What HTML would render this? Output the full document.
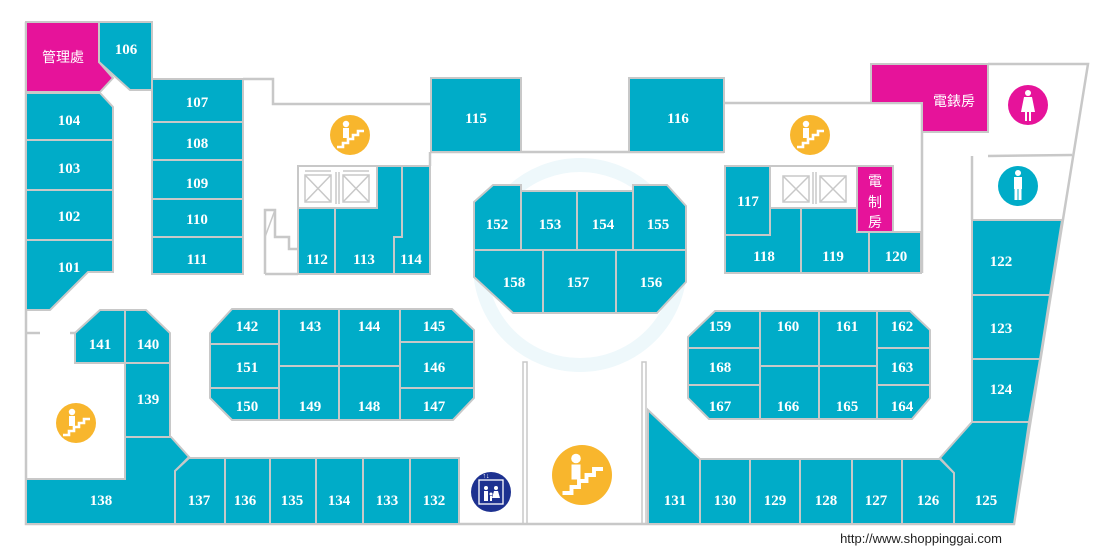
<!DOCTYPE html>
<html><head><meta charset="utf-8"><style>
html,body{margin:0;padding:0;background:#fff;}
svg{display:block;}
.t{fill:#00acc8;stroke:#c8c8c8;stroke-width:2;}
.m{fill:#e6139a;stroke:#c8c8c8;stroke-width:2;}
.w{fill:none;stroke:#c8c8c8;stroke-width:2.5;}
.n{font-family:"Liberation Serif",serif;font-weight:bold;font-size:15px;fill:#fff;text-anchor:middle;}
.c{font-family:"Liberation Sans","Noto Sans CJK TC",sans-serif;font-size:14px;fill:#fff;text-anchor:middle;}
</style></head><body>
<svg width="1114" height="554" viewBox="0 0 1114 554" xmlns="http://www.w3.org/2000/svg">
<defs>
<g id="st">
<circle cx="0" cy="0" r="20" fill="#f8b62d"/>
<circle cx="-4" cy="-11" r="3.2" fill="#fff"/>
<rect x="-7" y="-7" width="6" height="10" fill="#fff"/>
<polyline points="-13,12 -7,12 -7,8 -2,8 -2,4 3,4 3,0 8,0 8,-4 14,-4" fill="none" stroke="#fff" stroke-width="2.6"/>
</g>
</defs>
<!-- faint watermark -->
<circle cx="580" cy="265" r="100" fill="none" stroke="#eef8fb" stroke-width="14"/>
<!-- walls -->
<polyline class="w" points="26,22 26,524 1014,524 1088,64 988,64"/>
<polyline class="w" points="243,79 273,79 273,104 431,104"/>
<polyline class="w" points="431,152 724,152"/>
<polyline class="w" points="724,103 922,103 922,273"/>
<polyline class="w" points="988,156 1072,155"/>
<polyline class="w" points="972,156 972,220"/>
<polyline class="w" points="26,333 40,333"/><polyline class="w" points="70,333 75,333"/>
<polyline class="w" points="430,152 430,166"/>
<rect x="523" y="362" width="4" height="162" fill="none" stroke="#c8c8c8" stroke-width="1.5"/>
<rect x="642" y="362" width="4" height="162" fill="none" stroke="#c8c8c8" stroke-width="1.5"/>
<!-- small stair outline -->
<polyline class="w" points="265,274 265,210 275,210 275,237 289,237 289,249 297,249"/>
<line x1="265" y1="237" x2="275" y2="210" stroke="#c8c8c8" stroke-width="1.5"/>
<polyline class="w" points="265,274 298,274"/>
<!-- left column -->
<polygon class="m" points="26,22 99,22 99,62 113,78 100,92 26,92"/>
<polygon class="t" points="99,22 152,22 152,90 130,90 99,62"/>
<polygon class="t" points="26,93 100,93 113,107 113,140 26,140"/>
<rect class="t" x="26" y="140" width="87" height="50"/>
<rect class="t" x="26" y="190" width="87" height="50"/>
<polygon class="t" points="26,240 113,240 113,272 88,272 50,310 26,310"/>
<rect class="t" x="152" y="79" width="91" height="43"/>
<rect class="t" x="152" y="122" width="91" height="38"/>
<rect class="t" x="152" y="160" width="91" height="39"/>
<rect class="t" x="152" y="199" width="91" height="38"/>
<rect class="t" x="152" y="237" width="91" height="37"/>
<rect class="t" x="431" y="78" width="90" height="74"/>
<!-- elevators left -->
<rect x="298" y="166" width="79" height="42" fill="#fff" stroke="#c8c8c8" stroke-width="2"/>
<g stroke="#c8c8c8" stroke-width="1.5" fill="none">
<rect x="305" y="175" width="26" height="27"/><line x1="305" y1="175" x2="331" y2="202"/><line x1="331" y1="175" x2="305" y2="202"/>
<rect x="343" y="175" width="26" height="27"/><line x1="343" y1="175" x2="369" y2="202"/><line x1="369" y1="175" x2="343" y2="202"/>
<line x1="336" y1="172" x2="336" y2="204"/><line x1="339" y1="172" x2="339" y2="204"/>
<line x1="305" y1="171" x2="331" y2="171"/><line x1="343" y1="171" x2="369" y2="171"/>
</g>
<rect class="t" x="298" y="208" width="37" height="66"/>
<polygon class="t" points="335,208 377,208 377,166 402,166 402,237 394,237 394,274 335,274"/>
<polygon class="t" points="402,166 430,166 430,274 394,274 394,237 402,237"/>
<!-- center 152-158 -->
<polygon class="t" points="474,202 493,185 521,185 521,250 474,250"/>
<rect class="t" x="521" y="191" width="56" height="59"/>
<rect class="t" x="577" y="191" width="56" height="59"/>
<polygon class="t" points="633,185 667,185 686,206 686,250 633,250"/>
<polygon class="t" points="474,250 543,250 543,313 513,313 474,277"/>
<rect class="t" x="543" y="250" width="73" height="63"/>
<polygon class="t" points="616,250 686,250 686,282 657,313 616,313"/>
<!-- right top -->
<rect class="t" x="629" y="78" width="95" height="74"/>
<polygon class="m" points="871,64 988,64 988,132 922,132 922,103 871,103"/>
<rect x="770" y="166" width="87" height="42" fill="#fff" stroke="#c8c8c8" stroke-width="2"/>
<g stroke="#c8c8c8" stroke-width="1.5" fill="none">
<rect x="783" y="176" width="26" height="26"/><line x1="783" y1="176" x2="809" y2="202"/><line x1="809" y1="176" x2="783" y2="202"/>
<rect x="820" y="176" width="26" height="26"/><line x1="820" y1="176" x2="846" y2="202"/><line x1="846" y1="176" x2="820" y2="202"/>
<line x1="813" y1="172" x2="813" y2="204"/><line x1="816" y1="172" x2="816" y2="204"/>
</g>
<rect class="t" x="725" y="166" width="45" height="69"/>
<rect class="m" x="857" y="166" width="36" height="66"/>
<polygon class="t" points="725,235 770,235 770,208 801,208 801,273 725,273"/>
<polygon class="t" points="801,208 857,208 857,232 869,232 869,273 801,273"/>
<rect class="t" x="869" y="232" width="52" height="41"/>
<!-- right column -->
<polygon class="t" points="972,220 1062,220 1050,295 972,295"/>
<polygon class="t" points="972,295 1050,295 1040,359 972,359"/>
<polygon class="t" points="972,359 1040,359 1029,422 972,422"/>
<polygon class="t" points="972,422 1029,422 1014,524 954,524 954,473 940,458"/>
<!-- bottom right row -->
<polygon class="t" points="648,410 700,459 700,524 648,524"/>
<rect class="t" x="700" y="459" width="50" height="65"/>
<rect class="t" x="750" y="459" width="50" height="65"/>
<rect class="t" x="800" y="459" width="52" height="65"/>
<rect class="t" x="852" y="459" width="50" height="65"/>
<polygon class="t" points="902,459 940,459 954,473 954,524 902,524"/>
<!-- block 159-168 -->
<polygon class="t" points="688,337 715,311 760,311 760,348 688,348"/>
<rect class="t" x="688" y="348" width="72" height="37"/>
<polygon class="t" points="688,385 760,385 760,419 709,419 688,398"/>
<rect class="t" x="760" y="311" width="59" height="55"/>
<rect class="t" x="819" y="311" width="58" height="55"/>
<rect class="t" x="760" y="366" width="59" height="53"/>
<rect class="t" x="819" y="366" width="58" height="53"/>
<polygon class="t" points="877,311 910,311 930,330 930,348 877,348"/>
<rect class="t" x="877" y="348" width="53" height="37"/>
<polygon class="t" points="877,385 930,385 930,398 912,419 877,419"/>
<!-- block 142-151 -->
<polygon class="t" points="210,333 232,309 279,309 279,344 210,344"/>
<rect class="t" x="210" y="344" width="69" height="44"/>
<polygon class="t" points="210,388 279,388 279,420 232,420 210,398"/>
<rect class="t" x="279" y="309" width="60" height="57"/>
<rect class="t" x="339" y="309" width="61" height="57"/>
<rect class="t" x="279" y="366" width="60" height="54"/>
<rect class="t" x="339" y="366" width="61" height="54"/>
<polygon class="t" points="400,309 452,309 474,330 474,342 400,342"/>
<rect class="t" x="400" y="342" width="74" height="46"/>
<polygon class="t" points="400,388 474,388 474,398 453,420 400,420"/>
<!-- left lower -->
<polygon class="t" points="75,333 100,310 125,310 125,363 75,363"/>
<polygon class="t" points="125,310 146,310 170,333 170,363 125,363"/>
<rect class="t" x="125" y="363" width="45" height="74"/>
<polygon class="t" points="26,479 125,479 125,437 171,437 189,457 175,471 175,524 26,524"/>
<polygon class="t" points="175,471 189,458 225,458 225,524 175,524"/>
<rect class="t" x="225" y="458" width="45" height="66"/>
<rect class="t" x="270" y="458" width="46" height="66"/>
<rect class="t" x="316" y="458" width="47" height="66"/>
<rect class="t" x="363" y="458" width="47" height="66"/>
<rect class="t" x="410" y="458" width="49" height="66"/>
<!-- icons -->
<use href="#st" x="350" y="135"/>
<use href="#st" x="810" y="135"/>
<use href="#st" x="76" y="423"/>
<g transform="translate(582,475) scale(1.5)"><use href="#st"/></g>
<circle cx="1028" cy="105" r="20" fill="#e6139a"/>
<circle cx="1028" cy="93" r="3" fill="#fff"/>
<polygon points="1024,97 1032,97 1035,112 1021,112" fill="#fff"/>
<rect x="1025" y="112" width="2" height="9" fill="#fff"/><rect x="1029" y="112" width="2" height="9" fill="#fff"/>
<circle cx="1018" cy="186" r="20" fill="#00acc8"/>
<circle cx="1018" cy="173" r="3" fill="#fff"/>
<rect x="1014" y="177" width="8" height="12" fill="#fff"/>
<rect x="1014.5" y="188" width="3" height="12" fill="#fff"/><rect x="1018.5" y="188" width="3" height="12" fill="#fff"/>
<circle cx="491" cy="492" r="20" fill="#1d3190"/>
<rect x="479" y="480" width="24" height="24" fill="none" stroke="#fff" stroke-width="1.3"/>
<circle cx="486" cy="488" r="2" fill="#fff"/><rect x="484" y="491" width="4" height="10" fill="#fff"/>
<circle cx="496" cy="488" r="2" fill="#fff"/><polygon points="494,491 498,491 500,498 492,498" fill="#fff"/>
<circle cx="491" cy="494" r="1.5" fill="#fff"/><rect x="490" y="496" width="2" height="5" fill="#fff"/>
<text x="486" y="478" font-size="7" fill="#fff" text-anchor="middle" font-family="Liberation Sans">↑↓</text>
<!-- labels -->
<g class="n">
<text x="126" y="54">106</text><text x="69" y="125">104</text><text x="69" y="173">103</text><text x="69" y="221">102</text><text x="69" y="272">101</text>
<text x="197" y="107">107</text><text x="197" y="148">108</text><text x="197" y="188">109</text><text x="197" y="224">110</text><text x="197" y="264">111</text>
<text x="476" y="123">115</text><text x="317" y="264">112</text><text x="364" y="264">113</text><text x="411" y="264">114</text>
<text x="497" y="229">152</text><text x="550" y="229">153</text><text x="603" y="229">154</text><text x="658" y="229">155</text>
<text x="514" y="287">158</text><text x="578" y="287">157</text><text x="651" y="287">156</text>
<text x="678" y="123">116</text><text x="748" y="206">117</text><text x="764" y="261">118</text><text x="833" y="261">119</text><text x="896" y="261">120</text>
<text x="1001" y="266">122</text><text x="1001" y="333">123</text><text x="1001" y="394">124</text><text x="986" y="505">125</text>
<text x="928" y="505">126</text><text x="876" y="505">127</text><text x="826" y="505">128</text><text x="775" y="505">129</text><text x="725" y="505">130</text><text x="675" y="505">131</text>
<text x="720" y="331">159</text><text x="788" y="331">160</text><text x="847" y="331">161</text><text x="902" y="331">162</text>
<text x="720" y="372">168</text><text x="902" y="372">163</text>
<text x="720" y="411">167</text><text x="788" y="411">166</text><text x="847" y="411">165</text><text x="902" y="411">164</text>
<text x="247" y="331">142</text><text x="310" y="331">143</text><text x="369" y="331">144</text><text x="434" y="331">145</text>
<text x="247" y="372">151</text><text x="434" y="372">146</text>
<text x="247" y="411">150</text><text x="310" y="411">149</text><text x="369" y="411">148</text><text x="434" y="411">147</text>
<text x="100" y="349">141</text><text x="148" y="349">140</text><text x="148" y="404">139</text>
<text x="101" y="505">138</text><text x="199" y="505">137</text><text x="245" y="505">136</text><text x="292" y="505">135</text><text x="339" y="505">134</text><text x="387" y="505">133</text><text x="434" y="505">132</text>
</g>
<g class="c">
<text x="63" y="62">管理處</text>
<text x="954" y="106">電錶房</text>
<text x="875" y="186">電</text><text x="875" y="207">制</text><text x="875" y="227">房</text>
</g>
<text x="921" y="543" font-family="Liberation Sans" font-size="13" fill="#222" text-anchor="middle">http://www.shoppinggai.com</text>
</svg>
</body></html>
